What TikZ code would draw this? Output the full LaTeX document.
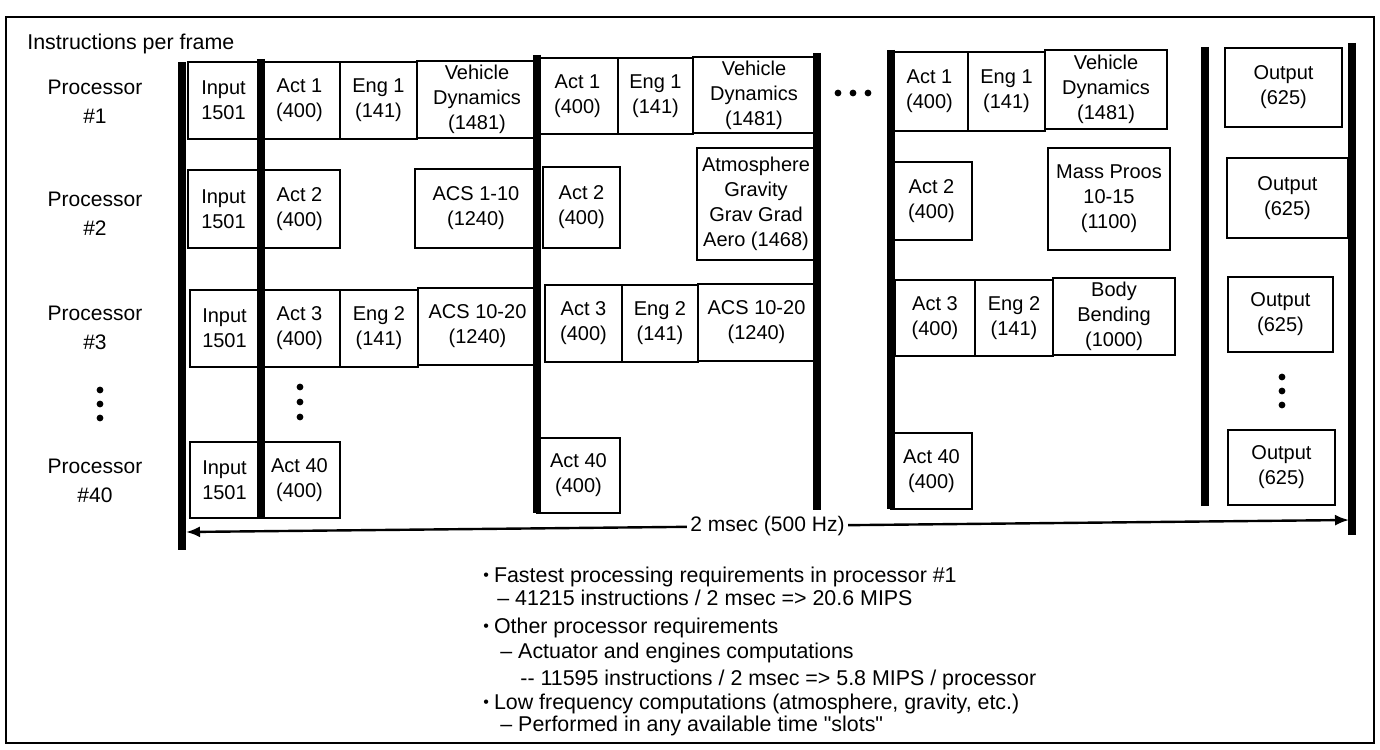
\documentclass[tikz,border=0pt]{standalone}
\usepackage{fontspec}
\setmainfont{Liberation Sans}
% same face without TeX input ligatures, for straight quote marks
\newfontfamily\plainquote{Liberation Sans}
\usetikzlibrary{arrows.meta}

% one block of the schedule: name, x1, y1, x2, y2, text
\newcommand\blk[6]{%
  \node[blk, minimum width={(#4-(#2))*0.5pt}, minimum height={(#5-(#3))*0.5pt}]
    (#1) at ({(#2+#4)/2},{(#3+#5)/2}) {#6};}
% a heavy frame-boundary bar: x, top, bottom
\newcommand\framebar[3]{\draw[bar] (#1,#2) -- (#1,#3);}

\tikzset{
  blk/.style={draw, line width=1.3pt, inner sep=0pt, align=center,
    font=\fontsize{10}{12.5}\selectfont},
  proclabel/.style={inner sep=0pt, align=center,
    font=\fontsize{10.5}{14.5}\selectfont},
  note/.style={inner sep=0pt, anchor=base west,
    font=\fontsize{10.7}{12.5}\selectfont},
  bar/.style={line width=4pt},
  dotmark/.style={circle, fill, inner sep=0pt, minimum size=3.4pt},
  span/.style={line width=1.2pt, {Latex[length=7pt,width=5.5pt]}-{Latex[length=7pt,width=5.5pt]}},
}

\begin{document}
\begin{tikzpicture}[x=0.5pt, y=-0.5pt]
\useasboundingbox (0,0) rectangle (1380,749);

% outer frame
\draw[line width=1pt] (6,17) rectangle (1374,743);

\node[note, anchor=base west] (title) at (27,50) {Instructions per frame};

% processor labels
\node[proclabel] (p1)  at (95,102) {Processor\\\#1};
\node[proclabel] (p2)  at (95,214) {Processor\\\#2};
\node[proclabel] (p3)  at (95,328) {Processor\\\#3};
\node[proclabel] (p40) at (95,481) {Processor\\\#40};

% frame-boundary bars
\framebar{182}{62}{550}
\framebar{261}{59}{518}
\framebar{537}{55}{513}
\framebar{817}{53}{510}
\framebar{891}{50}{509}
\framebar{1205}{47}{506}
\framebar{1352}{43}{535}

% processor #1
\blk{inA}{188}{62}{259}{139}{Input\\1501}
\blk{actOneA}{259}{62}{340}{139}{Act 1\\(400)}
\blk{engOneA}{340}{62}{417}{139}{Eng 1\\(141)}
\blk{vehA}{417}{61}{537}{138}{Vehicle\\Dynamics\\(1481)}
\blk{actOneB}{537}{58}{618}{134}{Act 1\\(400)}
\blk{engOneB}{618}{58}{693}{134}{Eng 1\\(141)}
\blk{vehB}{693}{57}{815}{133}{Vehicle\\Dynamics\\(1481)}
\blk{actOneC}{891}{52}{968}{131}{Act 1\\(400)}
\blk{engOneC}{968}{52}{1045}{131}{Eng 1\\(141)}
\blk{vehC}{1045}{50}{1167}{129}{Vehicle\\Dynamics\\(1481)}
\blk{outA}{1225}{48}{1342}{127}{Output\\(625)}

% processor #2
\blk{inB}{188}{170}{259}{248}{Input\\1501}
\blk{actTwoA}{259}{170}{340}{248}{Act 2\\(400)}
\blk{acsA}{415}{169}{537}{248}{ACS 1-10\\(1240)}
\blk{actTwoB}{543}{167}{620}{248}{Act 2\\(400)}
\blk{atmo}{697}{148}{815}{260}{Atmosphere\\Gravity\\Grav Grad\\Aero (1468)}
\blk{actTwoC}{891}{162}{972}{240}{Act 2\\(400)}
\blk{mass}{1048}{148}{1170}{250}{Mass Proos\\10-15\\(1100)}
\blk{outB}{1227}{158}{1348}{238}{Output\\(625)}

% processor #3
\blk{inC}{190}{290}{259}{367}{Input\\1501}
\blk{actThreeA}{259}{290}{340}{367}{Act 3\\(400)}
\blk{engTwoA}{340}{290}{418}{367}{Eng 2\\(141)}
\blk{acsB}{418}{288}{537}{365}{ACS 10-20\\(1240)}
\blk{actThreeB}{545}{285}{622}{362}{Act 3\\(400)}
\blk{engTwoB}{622}{285}{698}{362}{Eng 2\\(141)}
\blk{acsC}{698}{284}{815}{361}{ACS 10-20\\(1240)}
\blk{actThreeC}{895}{280}{975}{356}{Act 3\\(400)}
\blk{engTwoC}{975}{280}{1053}{356}{Eng 2\\(141)}
\blk{body}{1053}{278}{1175}{355}{Body\\Bending\\(1000)}
\blk{outC}{1228}{277}{1333}{352}{Output\\(625)}

% processor #40
\blk{inD}{190}{442}{259}{518}{Input\\1501}
\blk{actFortyA}{259}{442}{340}{518}{Act 40\\(400)}
\blk{actFortyB}{537}{438}{620}{513}{Act 40\\(400)}
\blk{actFortyC}{891}{433}{972}{509}{Act 40\\(400)}
\blk{outD}{1228}{430}{1335}{505}{Output\\(625)}

% ellipsis marks
\node[dotmark] (hx1) at (838,93) {};
\node[dotmark] (hx2) at (853,93) {};
\node[dotmark] (hx3) at (868,93) {};
\node[dotmark] (px1) at (100,390) {};
\node[dotmark] (px2) at (100,404) {};
\node[dotmark] (px3) at (100,418) {};
\node[dotmark] (ax1) at (300,387) {};
\node[dotmark] (ax2) at (300,402) {};
\node[dotmark] (ax3) at (300,417) {};
\node[dotmark] (ox1) at (1282,377) {};
\node[dotmark] (ox2) at (1282,391) {};
\node[dotmark] (ox3) at (1282,405) {};

% frame period
\coordinate (spanL) at (186,532);
\coordinate (spanR) at (1349,520);
\draw[span] (spanL) -- node[fill=white, inner sep=1.5pt,
  font=\fontsize{10.5}{12}\selectfont] (period) {2 msec (500 Hz)} (spanR);

% requirement notes
\newcommand\bul{{\fontsize{8}{8}\selectfont\raisebox{0.6pt}{•}}\hspace{2.5pt}}
\node[note] (n1) at (483,582) {\bul Fastest processing requirements in processor \#1};
\node[note] (n2) at (497,605) {– 41215 instructions / 2 msec => 20.6 MIPS};
\node[note] (n3) at (483,633) {\bul Other processor requirements};
\node[note] (n4) at (500,658) {– Actuator and engines computations};
\node[note] (n5) at (520,685) {-{}- 11595 instructions / 2 msec => 5.8 MIPS / processor};
\node[note] (n6) at (483,709) {\bul Low frequency computations (atmosphere, gravity, etc.)};
\node[note] (n7) at (500,731) {– Performed in any available time {\plainquote"}slots{\plainquote"}};
\end{tikzpicture}
\end{document}
